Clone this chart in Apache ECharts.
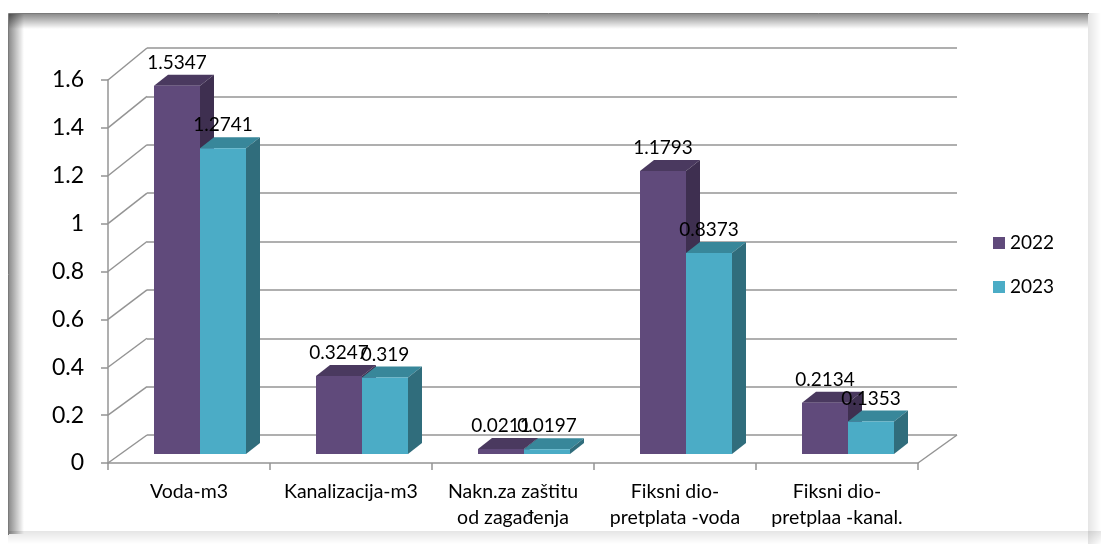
<!DOCTYPE html>
<html><head><meta charset="utf-8">
<script src="https://cdn.jsdelivr.net/npm/echarts@6/dist/echarts.min.js"></script>
<style>html,body{margin:0;padding:0;background:#fff}#c{width:1101px;height:544px}</style>
</head><body><div id="c"></div>
<script>
// ---- data ----
const categories = ['Voda-m3', 'Kanalizacija-m3', 'Nakn.za zaštitu\nod zagađenja', 'Fiksni dio-\npretplata -voda', 'Fiksni dio-\npretplaa -kanal.'];
const seriesNames = ['2022', '2023'];
const values2022 = [1.5347, 0.3247, 0.0211, 1.1793, 0.2134];
const values2023 = [1.2741, 0.319, 0.0197, 0.8373, 0.1353];
const yTicks = [0, 0.2, 0.4, 0.6, 0.8, 1, 1.2, 1.4, 1.6];

// ---- layout / style ----
const FRONT = {left: 108, top: 80, width: 810, height: 383};
const BACK = {left: 147, top: 48, width: 810, height: 387};
const BARS = {left: 119, top: 70, width: 810, height: 384};
const DX = 14, DY = -11;
const BAR_FRAC = 46 / 162;
const GRID_COLOR = '#949494';
const FONT = 'Lato, "Open Sans", sans-serif';
const COLORS = [
  {front: '#604A7B', top: '#4A395F', side: '#3E2F50'},
  {front: '#4BACC6', top: '#38879A', side: '#306D7C'}
];

function makeRender(s) {
  return function (params, api) {
    const ci = api.value(0), v = api.value(1);
    const base = api.coord([ci, 0]);
    const top = api.coord([ci, v]);
    const band = api.size([1, 0])[0];
    const w = band * BAR_FRAC;
    const x0 = base[0] + (s === 0 ? -w : 0);
    const x1 = x0 + w;
    const yb = base[1], yt = top[1];
    const c = COLORS[s];
    return {
      type: 'group',
      children: [
        {type: 'polygon', shape: {points: [[x0, yt], [x0 + DX, yt + DY], [x1 + DX, yt + DY], [x1, yt]]}, style: {fill: c.top}},
        {type: 'polygon', shape: {points: [[x1, yb], [x1, yt], [x1 + DX, yt + DY], [x1 + DX, yb + DY]]}, style: {fill: c.side}},
        {type: 'rect', shape: {x: x0, y: yt, width: w, height: yb - yt}, style: {fill: c.front}},
        {type: 'text', z2: 100, x: (x0 + x1) / 2, y: yt - 23,
          style: {text: String(v), align: 'center', verticalAlign: 'middle', font: '19px ' + FONT, fill: '#000'}}
      ]
    };
  };
}

const chart = echarts.init(document.getElementById('c'), null, {renderer: 'canvas'});

const frameGraphics = [
  {type: 'rect', shape: {x: 1088, y: 13, width: 13, height: 531},
    style: {fill: new echarts.graphic.LinearGradient(0, 0, 1, 0, [{offset: 0, color: 'rgba(0,0,0,0.10)'}, {offset: 1, color: 'rgba(0,0,0,0)'}])}, silent: true},
  {type: 'rect', shape: {x: 8, y: 531, width: 1093, height: 13},
    style: {fill: new echarts.graphic.LinearGradient(0, 0, 0, 1, [{offset: 0, color: 'rgba(0,0,0,0.10)'}, {offset: 1, color: 'rgba(0,0,0,0)'}])}, silent: true},
  {type: 'rect', shape: {x: 9, y: 14, width: 15, height: 520},
    style: {fill: new echarts.graphic.LinearGradient(0, 0, 1, 0, [{offset: 0, color: 'rgba(0,0,0,0.45)'}, {offset: 1, color: 'rgba(0,0,0,0)'}])}, silent: true},
  {type: 'rect', shape: {x: 9, y: 14, width: 1079, height: 15},
    style: {fill: new echarts.graphic.LinearGradient(0, 0, 0, 1, [{offset: 0, color: 'rgba(0,0,0,0.45)'}, {offset: 1, color: 'rgba(0,0,0,0)'}])}, silent: true},
  {type: 'polyline', shape: {points: [[8.5, 535], [8.5, 13.5], [1089, 13.5]]}, style: {stroke: '#7a7a7a', lineWidth: 1, fill: null}, silent: true}
];

chart.setOption({
  animation: false,
  backgroundColor: '#fff',
  textStyle: {fontFamily: FONT},
  graphic: frameGraphics,
  legend: {
    orient: 'vertical', left: 993, top: 233, padding: 0,
    itemWidth: 12, itemHeight: 12, itemGap: 24, icon: 'rect',
    textStyle: {fontSize: 19, color: '#000', lineHeight: 20, fontFamily: FONT},
    data: [
      {name: seriesNames[0], itemStyle: {color: COLORS[0].front}},
      {name: seriesNames[1], itemStyle: {color: COLORS[1].front}}
    ]
  },
  grid: [
    {left: FRONT.left, top: FRONT.top, width: FRONT.width, height: FRONT.height},
    {left: BACK.left, top: BACK.top, width: BACK.width, height: BACK.height},
    {left: BARS.left, top: BARS.top, width: BARS.width, height: BARS.height}
  ],
  xAxis: [
    {gridIndex: 0, type: 'category', data: categories, boundaryGap: true,
      axisLine: {show: true, lineStyle: {color: GRID_COLOR, width: 1.5}},
      axisTick: {show: true, length: 7, lineStyle: {color: GRID_COLOR, width: 1.5}},
      axisLabel: {fontSize: 19.5, color: '#000', lineHeight: 26, margin: 16, interval: 0, fontFamily: FONT},
      splitLine: {show: false}},
    {gridIndex: 1, type: 'value', min: 0, max: 1, show: false},
    {gridIndex: 2, type: 'category', data: categories, boundaryGap: true, show: false}
  ],
  yAxis: [
    {gridIndex: 0, type: 'value', min: 0, max: 1.6, interval: 0.2,
      axisLine: {show: true, lineStyle: {color: GRID_COLOR, width: 1.5}},
      axisTick: {show: true, length: 7, lineStyle: {color: GRID_COLOR, width: 1.5}},
      axisLabel: {fontSize: 23, color: '#000', margin: 24, fontFamily: FONT},
      splitLine: {show: false}},
    {gridIndex: 1, type: 'value', min: 0, max: 1.6, interval: 0.2,
      axisLine: {show: false}, axisTick: {show: false}, axisLabel: {show: false},
      splitLine: {show: true, lineStyle: {color: GRID_COLOR, width: 1.5}}},
    {gridIndex: 2, type: 'value', min: 0, max: 1.6, interval: 0.2, show: false}
  ],
  series: [
    {name: seriesNames[0], type: 'custom', xAxisIndex: 2, yAxisIndex: 2, itemStyle: {color: COLORS[0].front},
      renderItem: makeRender(0), encode: {x: 0, y: 1},
      data: values2022.map((v, i) => [i, v])},
    {name: seriesNames[1], type: 'custom', xAxisIndex: 2, yAxisIndex: 2, itemStyle: {color: COLORS[1].front},
      renderItem: makeRender(1), encode: {x: 0, y: 1},
      data: values2023.map((v, i) => [i, v])}
  ]
});

// side-wall and floor edges, placed through the axes' own scales
const edges = [];
yTicks.forEach(v => {
  const yf = chart.convertToPixel({yAxisIndex: 0}, v);
  const yb = chart.convertToPixel({yAxisIndex: 1}, v);
  edges.push({type: 'line', silent: true, z: 0, shape: {x1: FRONT.left, y1: yf, x2: BACK.left, y2: yb},
    style: {stroke: GRID_COLOR, lineWidth: 1.5}});
});
{
  const yf = chart.convertToPixel({yAxisIndex: 0}, 0);
  const yb = chart.convertToPixel({yAxisIndex: 1}, 0);
  edges.push({type: 'line', silent: true, z: 0, shape: {x1: FRONT.left + FRONT.width, y1: yf, x2: BACK.left + BACK.width, y2: yb},
    style: {stroke: GRID_COLOR, lineWidth: 1.5}});
}
chart.setOption({graphic: frameGraphics.concat(edges)});
</script>
</body></html>
